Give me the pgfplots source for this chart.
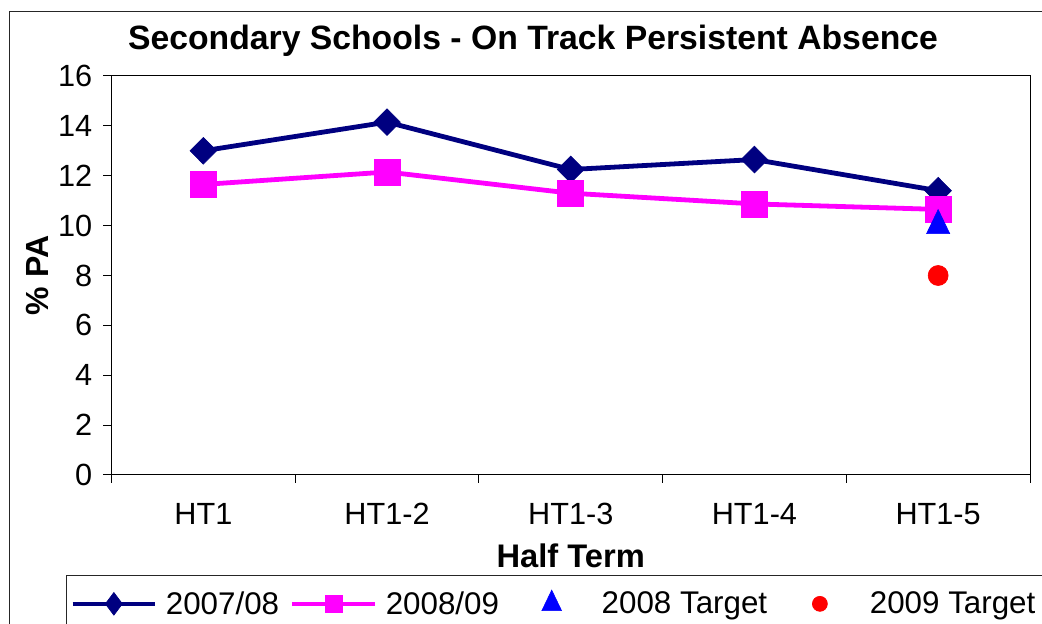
\documentclass[border=0pt]{standalone}
\usepackage{fontspec}
\setmainfont{Liberation Sans}
\usepackage{pgfplots}
\pgfplotsset{compat=1.18}
\definecolor{navyc}{RGB}{0,0,128}
\definecolor{magc}{RGB}{255,0,255}
\definecolor{bluc}{RGB}{0,0,255}
\definecolor{redc}{RGB}{255,0,0}
\pgfplotsset{
  legline/.style={legend image code/.code={\draw[mark repeat=2,mark phase=2,##1,line width=3pt,/tikz/every mark/.append style={#1}] plot coordinates {(0pt,0pt) (31pt,0pt) (62pt,0pt)};}},
  legmark/.style={legend image code/.code={\draw[draw=none] (0pt,0pt) -- (62pt,0pt); \draw[mark repeat=2,mark phase=2,##1,/tikz/every mark/.append style={#1}] plot coordinates {(0pt,0pt) (31pt,0pt) (62pt,0pt)};}},
}
\begin{document}
\begin{tikzpicture}
\useasboundingbox (0,0) rectangle (781.5pt,468pt);
\clip (0,0) rectangle (781.5pt,468pt);
\draw[line width=0.75pt, black!85] (6.75pt,459pt) rectangle (900pt,-50pt);
\begin{axis}[
  at={(83.625pt,111.75pt)}, anchor=south west,
  width=688.875pt, height=299.25pt, scale only axis,
  xmin=-0.5, xmax=4.5, ymin=0, ymax=16,
  ytick={0,2,...,16},
  xtick={0,1,2,3,4},
  xticklabels={HT1,HT1-2,HT1-3,HT1-4,HT1-5},
  minor xtick={-0.5,0.5,1.5,2.5,3.5,4.5},
  major x tick style={draw=none},
  tick align=outside, tick pos=left,
  major tick length=6pt, minor tick length=6pt,
  axis line style={line width=0.75pt},
  tick style={line width=0.75pt, black},
  font=\fontsize{23}{27}\selectfont,
  /pgf/number format/assume math mode=true,
  yticklabel style={xshift=-5pt},
  xticklabel style={anchor=base, yshift=-31.5pt},
  title={\fontsize{25.3}{30}\selectfont\bfseries Secondary Schools - On Track Persistent Absence},
  title style={at={(axis description cs:0.4589,1.047)}, anchor=base},
  xlabel={\fontsize{24.5}{29}\selectfont\bfseries Half Term},
  every axis x label/.style={at={(axis description cs:0.5,-0.2306)}, anchor=base},
  ylabel={\fontsize{24}{29}\selectfont\bfseries \% PA},
  every axis y label/.style={at={(axis description cs:-0.0811,0.5)}, rotate=90, anchor=center},
  legend columns=4,
  legend cell align=left,
  legend style={at={(axis description cs:-0.0495,-0.2506)}, anchor=north west,
    draw=black!85, line width=0.75pt, font=\fontsize{23.5}{27}\selectfont,
    inner ysep=10pt, inner xsep=3pt,
    /tikz/every odd column/.append style={column sep=4.5pt},
    /tikz/every even column/.append style={column sep=6.5pt}},
]
\addplot[color=navyc, line width=3.6pt, mark=diamond*, mark size=10pt,
  mark options={solid, fill=navyc, line width=0.5pt, xscale=1.33},
  legline={scale=0.85,xscale=0.75}]
  coordinates {(0,13.0) (1,14.15) (2,12.25) (3,12.65) (4,11.4)};
\addlegendentry{2007/08}
\addplot[color=magc, line width=3.6pt, mark=square*, mark size=9.8pt,
  mark options={solid, fill=magc, line width=0.5pt},
  legline={scale=0.65}]
  coordinates {(0,11.65) (1,12.15) (2,11.3) (3,10.87) (4,10.65)};
\addlegendentry{2008/09}
\addplot[only marks, color=bluc, mark=triangle*, mark size=10pt,
  mark options={fill=bluc, line width=0.5pt, yscale=1.2},
  legmark={scale=0.85}]
  coordinates {(4,10)};
\addlegendentry{2008 Target}
\addplot[only marks, color=redc, mark=*, mark size=7.5pt,
  mark options={fill=redc, line width=0.5pt},
  legmark={scale=0.75}]
  coordinates {(4,8)};
\addlegendentry{2009 Target\hspace{40pt}}
\end{axis}
\end{tikzpicture}
\end{document}
